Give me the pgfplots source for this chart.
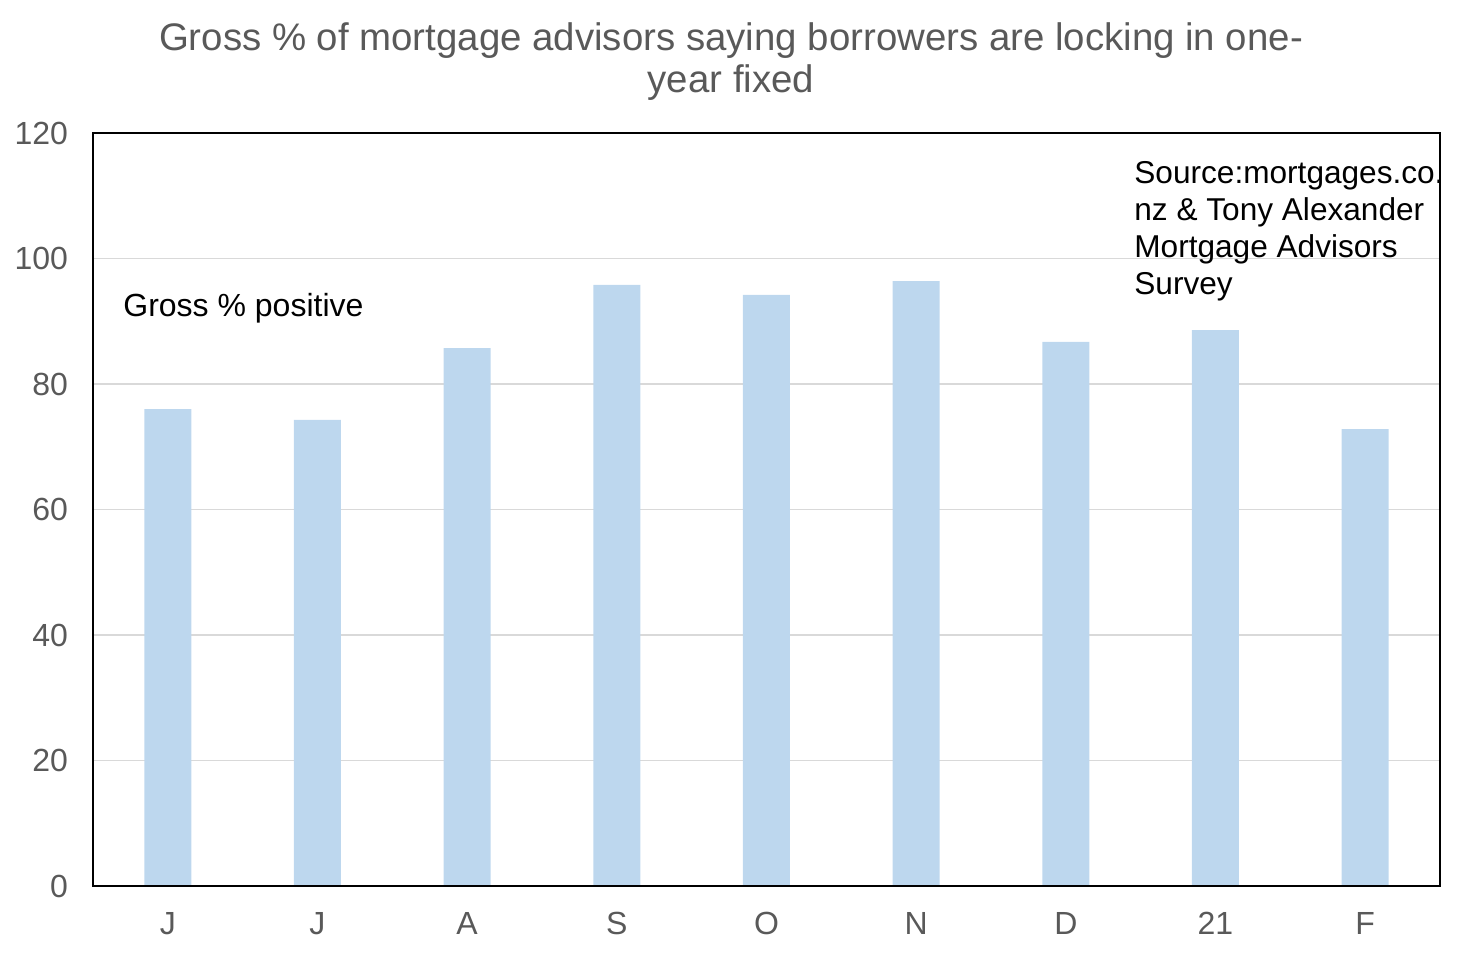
\documentclass[border=0pt]{standalone}
\usepackage{pgfplots}
\pgfplotsset{compat=1.18}
\usepackage{fontspec}
\setmainfont{Liberation Sans}
\definecolor{barblue}{HTML}{BDD7EE}
\definecolor{txtgray}{HTML}{595959}
\definecolor{gridgray}{HTML}{D9D9D9}
\begin{document}
\begin{tikzpicture}
\begin{axis}[
  at={(0pt,0pt)}, anchor=south west,
  scale only axis,
  width=673.5pt, height=376.5pt,
  xmin=-0.5, xmax=8.5,
  ymin=0, ymax=120,
  ytick={0,20,...,120},
  xtick=data,
  xticklabels={J,J,A,S,O,N,D,21,F},
  major tick length=0pt,
  ymajorgrids,
  grid style={gridgray, line width=0.6pt},
  axis line style={black, line width=0.8pt},
  tick label style={font=\fontsize{16}{18}\selectfont, text=txtgray},
  /pgf/number format/assume math mode=true,
  yticklabel style={xshift=-9pt},
  xticklabel style={yshift=-9.5pt},
]
\addplot[ybar, bar width=23.5pt, fill=barblue, draw=none] coordinates {
  (0,76.0) (1,74.3) (2,85.7) (3,95.8) (4,94.2) (5,96.4) (6,86.7) (7,88.6) (8,72.8)
};
\end{axis}
\draw[black, line width=0.8pt] (0pt,0pt) rectangle (673.5pt,376.5pt);
\node[font=\fontsize{19.2}{22}\selectfont, text=txtgray] at (319pt,422.5pt) {Gross \% of mortgage advisors saying borrowers are locking in one-};
\node[font=\fontsize{19.2}{22}\selectfont, text=txtgray] at (319pt,401.5pt) {year fixed};
\node[font=\fontsize{16}{18.5}\selectfont, anchor=west, inner sep=0pt] at (15pt,289pt) {Gross \% positive};
\node[font=\fontsize{15.8}{18.5}\selectfont, anchor=north west, inner sep=0pt, align=left] at (520.5pt,362.5pt) {Source:mortgages.co.\\nz \& Tony Alexander\\Mortgage Advisors\\Survey};
\path[use as bounding box] (-46.5pt,-34pt) rectangle (684.5pt,443pt);
\end{tikzpicture}
\end{document}
